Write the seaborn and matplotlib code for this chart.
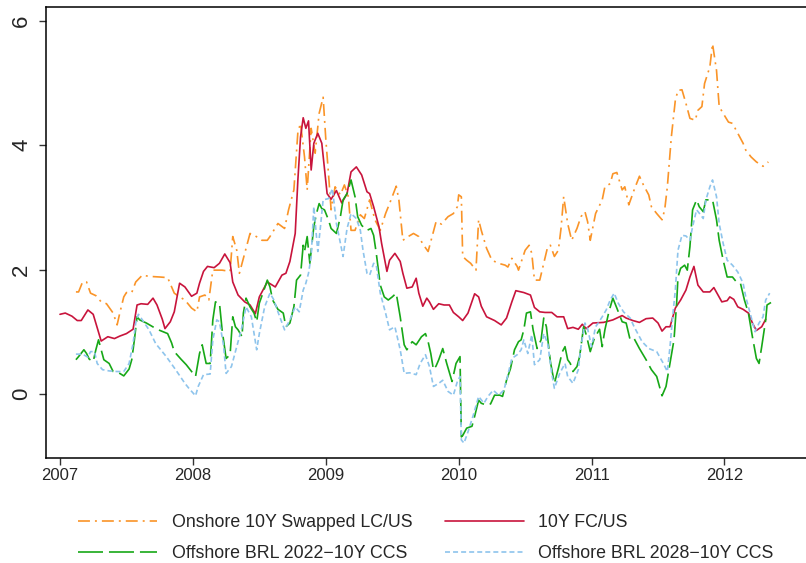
import matplotlib
matplotlib.use('Agg')
import matplotlib.pyplot as plt
import seaborn as sns
import pandas as pd

# ---- data (decimal year, %) ----
onshore_x = [2007.12, 2007.14, 2007.17, 2007.20, 2007.23, 2007.27, 2007.31, 2007.35, 2007.40, 2007.43,
             2007.45, 2007.48, 2007.50, 2007.54, 2007.57, 2007.62, 2007.67, 2007.75, 2007.81, 2007.86,
             2007.90, 2007.94, 2007.99, 2008.03, 2008.05, 2008.09, 2008.12, 2008.15, 2008.22, 2008.28,
             2008.30, 2008.33, 2008.35, 2008.39, 2008.43, 2008.47, 2008.52, 2008.56, 2008.58, 2008.64,
             2008.69, 2008.72, 2008.76, 2008.79, 2008.81, 2008.84, 2008.86, 2008.89, 2008.92, 2008.95,
             2008.98, 2009.00, 2009.02, 2009.04, 2009.07, 2009.11, 2009.14, 2009.17, 2009.19, 2009.22,
             2009.26, 2009.29, 2009.33, 2009.37, 2009.41, 2009.45, 2009.48, 2009.53, 2009.55, 2009.58,
             2009.62, 2009.66, 2009.70, 2009.73, 2009.77, 2009.80, 2009.83, 2009.87, 2009.92, 2009.96,
             2009.99, 2010.00, 2010.02, 2010.03, 2010.06, 2010.09, 2010.13, 2010.15, 2010.17, 2010.21,
             2010.25, 2010.30, 2010.35, 2010.37, 2010.40, 2010.44, 2010.45, 2010.50, 2010.53, 2010.55,
             2010.57, 2010.61, 2010.64, 2010.67, 2010.69, 2010.72, 2010.75, 2010.77, 2010.79, 2010.82,
             2010.85, 2010.89, 2010.92, 2010.95, 2010.97, 2010.99, 2011.03, 2011.08, 2011.10, 2011.14,
             2011.16, 2011.19, 2011.23, 2011.25, 2011.28, 2011.32, 2011.36, 2011.39, 2011.43, 2011.45,
             2011.49, 2011.53, 2011.55, 2011.57, 2011.58, 2011.60, 2011.63, 2011.65, 2011.68, 2011.71,
             2011.74, 2011.78, 2011.80, 2011.83, 2011.85, 2011.89, 2011.91, 2011.94, 2011.96, 2011.99,
             2012.03, 2012.06, 2012.10, 2012.14, 2012.16, 2012.20, 2012.24, 2012.29, 2012.33]
onshore_y = [1.64, 1.64, 1.80, 1.80, 1.62, 1.58, 1.48, 1.45, 1.30, 1.11,
             1.30, 1.56, 1.63, 1.63, 1.80, 1.91, 1.89, 1.88, 1.87, 1.62,
             1.56, 1.51, 1.38, 1.32, 1.56, 1.59, 1.51, 1.99, 1.99, 1.97,
             2.53, 2.31, 1.94, 2.26, 2.58, 2.54, 2.47, 2.47, 2.53, 2.74,
             2.66, 2.96, 3.28, 4.21, 4.35, 3.81, 3.28, 4.27, 3.87, 4.51,
             4.77, 4.10, 3.55, 2.96, 3.33, 3.20, 3.36, 3.17, 2.63, 2.63,
             2.88, 2.82, 3.12, 2.80, 2.63, 2.90, 3.06, 3.34, 3.12, 2.47,
             2.53, 2.58, 2.53, 2.41, 2.29, 2.53, 2.77, 2.73, 2.85, 2.90,
             3.01, 3.20, 3.17, 2.21, 2.15, 2.10, 1.99, 2.80, 2.63, 2.34,
             2.15, 2.10, 2.07, 2.04, 2.18, 2.05, 1.99, 2.31, 2.39, 2.26,
             1.83, 1.83, 2.10, 2.37, 2.39, 2.21, 2.31, 2.66, 3.17, 2.74,
             2.47, 2.66, 2.85, 2.93, 2.77, 2.47, 2.90, 3.12, 3.33, 3.38,
             3.54, 3.56, 3.28, 3.33, 3.04, 3.28, 3.50, 3.36, 3.20, 3.01,
             2.90, 2.80, 2.96, 3.33, 3.60, 4.13, 4.72, 4.88, 4.89, 4.67,
             4.43, 4.40, 4.56, 4.62, 4.99, 5.26, 5.63, 5.20, 4.62, 4.51,
             4.37, 4.35, 4.19, 4.03, 3.92, 3.81, 3.73, 3.66, 3.73]

fc_x = [2007.00, 2007.04, 2007.09, 2007.13, 2007.16, 2007.21, 2007.25, 2007.31, 2007.36, 2007.41,
        2007.45, 2007.50, 2007.55, 2007.58, 2007.61, 2007.66, 2007.70, 2007.73, 2007.77, 2007.79,
        2007.83, 2007.86, 2007.90, 2007.94, 2007.99, 2008.03, 2008.05, 2008.08, 2008.11, 2008.16,
        2008.20, 2008.24, 2008.28, 2008.30, 2008.34, 2008.39, 2008.43, 2008.47, 2008.50, 2008.56,
        2008.62, 2008.67, 2008.70, 2008.73, 2008.77, 2008.79, 2008.81, 2008.83, 2008.85, 2008.87,
        2008.89, 2008.91, 2008.94, 2008.97, 2009.01, 2009.04, 2009.08, 2009.12, 2009.16, 2009.19,
        2009.23, 2009.27, 2009.31, 2009.33, 2009.36, 2009.40, 2009.42, 2009.46, 2009.48, 2009.52,
        2009.56, 2009.58, 2009.61, 2009.65, 2009.68, 2009.70, 2009.73, 2009.76, 2009.78, 2009.81,
        2009.85, 2009.89, 2009.93, 2009.96, 2010.00, 2010.03, 2010.07, 2010.12, 2010.15, 2010.17,
        2010.21, 2010.27, 2010.32, 2010.36, 2010.40, 2010.43, 2010.49, 2010.54, 2010.57, 2010.61,
        2010.65, 2010.70, 2010.74, 2010.79, 2010.82, 2010.86, 2010.90, 2010.93, 2010.96, 2011.01,
        2011.09, 2011.16, 2011.23, 2011.26, 2011.31, 2011.36, 2011.41, 2011.46, 2011.50, 2011.53,
        2011.56, 2011.59, 2011.63, 2011.67, 2011.71, 2011.74, 2011.77, 2011.80, 2011.84, 2011.89,
        2011.92, 2011.98, 2012.02, 2012.04, 2012.07, 2012.10, 2012.14, 2012.18, 2012.21, 2012.24,
        2012.28, 2012.31]
fc_y = [1.28, 1.30, 1.25, 1.18, 1.18, 1.35, 1.28, 0.85, 0.92, 0.89,
        0.93, 0.97, 1.04, 1.43, 1.45, 1.44, 1.54, 1.43, 1.20, 1.05,
        1.16, 1.32, 1.78, 1.72, 1.57, 1.62, 1.78, 1.97, 2.05, 2.03,
        2.10, 2.25, 2.11, 1.80, 1.59, 1.48, 1.43, 1.29, 1.56, 1.80,
        1.72, 1.91, 1.94, 2.13, 2.58, 3.44, 4.13, 4.44, 4.27, 4.39,
        3.60, 4.03, 4.19, 4.03, 3.22, 3.13, 3.27, 3.07, 3.22, 3.57,
        3.65, 3.52, 3.25, 3.22, 3.01, 2.69, 2.42, 1.97, 2.15, 2.26,
        2.13, 1.94, 1.70, 1.72, 1.86, 1.62, 1.41, 1.54, 1.48, 1.36,
        1.45, 1.43, 1.43, 1.31, 1.24, 1.18, 1.30, 1.61, 1.56, 1.41,
        1.24, 1.18, 1.11, 1.22, 1.48, 1.66, 1.63, 1.59, 1.39, 1.32,
        1.31, 1.31, 1.24, 1.24, 1.05, 1.07, 1.04, 1.12, 1.05, 1.14,
        1.15, 1.19, 1.26, 1.22, 1.18, 1.15, 1.21, 1.22, 1.14, 1.01,
        1.08, 1.08, 1.38, 1.51, 1.67, 1.88, 2.05, 1.75, 1.64, 1.64,
        1.71, 1.48, 1.50, 1.56, 1.52, 1.40, 1.36, 1.30, 1.14, 1.02,
        1.08, 1.20]

ccs22_x = [2007.12, 2007.14, 2007.18, 2007.20, 2007.22, 2007.25, 2007.27, 2007.29, 2007.31, 2007.33,
           2007.37, 2007.40, 2007.45, 2007.48, 2007.52, 2007.54, 2007.56, 2007.58, 2007.60, 2007.65,
           2007.73, 2007.81, 2007.84, 2007.86, 2007.91, 2007.95, 2008.02, 2008.05, 2008.07, 2008.10,
           2008.13, 2008.15, 2008.17, 2008.20, 2008.22, 2008.25, 2008.28, 2008.30, 2008.32, 2008.34,
           2008.37, 2008.38, 2008.40, 2008.43, 2008.46, 2008.48, 2008.50, 2008.53, 2008.56, 2008.58,
           2008.60, 2008.64, 2008.68, 2008.70, 2008.73, 2008.76, 2008.78, 2008.81, 2008.83, 2008.84,
           2008.86, 2008.88, 2008.91, 2008.93, 2008.95, 2008.97, 2008.99, 2009.02, 2009.04, 2009.08,
           2009.11, 2009.13, 2009.16, 2009.19, 2009.22, 2009.24, 2009.27, 2009.31, 2009.34, 2009.36,
           2009.38, 2009.41, 2009.44, 2009.47, 2009.50, 2009.53, 2009.56, 2009.59, 2009.61, 2009.65,
           2009.68, 2009.72, 2009.75, 2009.77, 2009.79, 2009.81, 2009.83, 2009.85, 2009.88, 2009.91,
           2009.95, 2009.98, 2010.01, 2010.02, 2010.03, 2010.06, 2010.10, 2010.12, 2010.15, 2010.17,
           2010.21, 2010.24, 2010.27, 2010.31, 2010.33, 2010.36, 2010.39, 2010.42, 2010.45, 2010.47,
           2010.49, 2010.51, 2010.54, 2010.56, 2010.59, 2010.62, 2010.64, 2010.66, 2010.69, 2010.72,
           2010.75, 2010.78, 2010.80, 2010.82, 2010.84, 2010.86, 2010.89, 2010.91, 2010.94, 2010.96,
           2010.99, 2011.02, 2011.06, 2011.08, 2011.10, 2011.13, 2011.16, 2011.19, 2011.23, 2011.26,
           2011.29, 2011.32, 2011.36, 2011.41, 2011.45, 2011.49, 2011.53, 2011.56, 2011.59, 2011.62,
           2011.64, 2011.65, 2011.67, 2011.70, 2011.72, 2011.74, 2011.76, 2011.79, 2011.81, 2011.84,
           2011.86, 2011.91, 2011.94, 2011.96, 2011.99, 2012.02, 2012.06, 2012.09, 2012.12, 2012.15,
           2012.18, 2012.21, 2012.24, 2012.26, 2012.28, 2012.31, 2012.32, 2012.35]
ccs22_y = [0.55, 0.60, 0.71, 0.65, 0.56, 0.52, 0.71, 0.87, 0.71, 0.55,
           0.49, 0.36, 0.33, 0.29, 0.40, 0.55, 0.87, 1.24, 1.19, 1.14,
           1.04, 0.97, 0.82, 0.68, 0.56, 0.47, 0.28, 0.65, 0.79, 0.49,
           0.49, 1.19, 1.48, 1.46, 1.03, 0.57, 0.63, 1.24, 1.08, 1.03,
           0.92, 1.30, 1.54, 1.40, 1.30, 1.16, 1.46, 1.64, 1.83, 1.72,
           1.51, 1.36, 1.30, 1.08, 1.14, 1.40, 1.83, 1.91, 2.39, 2.29,
           2.53, 2.10, 2.69, 2.90, 3.06, 2.98, 2.96, 2.80, 2.66, 2.58,
           2.85, 3.12, 3.22, 3.44, 3.17, 2.85, 2.71, 2.63, 2.66, 2.55,
           2.26, 1.75, 1.56, 1.51, 1.56, 1.62, 1.24, 0.79, 0.71, 0.84,
           0.79, 0.92, 0.97, 0.84, 0.65, 0.39, 0.45, 0.55, 0.73, 0.49,
           0.20, 0.49, 0.60, -0.69, -0.67, -0.55, -0.52, -0.36, -0.10, -0.15,
           -0.18, -0.16, -0.02, -0.02, -0.04, 0.22, 0.41, 0.71, 0.84, 0.87,
           1.03, 1.30, 1.32, 1.03, 0.73, 0.87, 1.22, 1.08, 0.52, 0.17,
           0.41, 0.68, 0.76, 0.55, 0.49, 0.36, 0.44, 0.60, 1.08, 0.95,
           0.68, 0.89, 1.04, 0.76, 1.03, 1.32, 1.54, 1.38, 1.16, 1.14,
           0.87, 0.89, 0.73, 0.55, 0.39, 0.28, -0.03, 0.12, 0.49, 0.87,
           1.46, 1.88, 2.02, 2.07, 1.99, 2.37, 2.96, 3.12, 3.01, 2.93,
           3.12, 3.12, 2.80, 2.47, 2.15, 1.88, 1.88, 1.80, 1.78, 1.51,
           1.30, 0.92, 0.57, 0.49, 0.76, 1.19, 1.43, 1.47]

ccs28_x = [2007.12, 2007.17, 2007.21, 2007.23, 2007.26, 2007.28, 2007.32, 2007.37, 2007.43, 2007.48,
           2007.52, 2007.55, 2007.57, 2007.59, 2007.62, 2007.67, 2007.72, 2007.80, 2007.87, 2007.94,
           2007.97, 2008.02, 2008.04, 2008.08, 2008.13, 2008.15, 2008.18, 2008.20, 2008.23, 2008.25,
           2008.29, 2008.33, 2008.37, 2008.40, 2008.44, 2008.48, 2008.50, 2008.54, 2008.58, 2008.61,
           2008.64, 2008.69, 2008.73, 2008.77, 2008.80, 2008.83, 2008.85, 2008.87, 2008.89, 2008.91,
           2008.94, 2008.96, 2008.98, 2009.02, 2009.05, 2009.08, 2009.11, 2009.13, 2009.16, 2009.19,
           2009.23, 2009.26, 2009.28, 2009.31, 2009.33, 2009.36, 2009.38, 2009.41, 2009.45, 2009.48,
           2009.52, 2009.56, 2009.59, 2009.63, 2009.68, 2009.71, 2009.75, 2009.78, 2009.81, 2009.85,
           2009.88, 2009.92, 2009.96, 2009.99, 2010.01, 2010.02, 2010.04, 2010.07, 2010.11, 2010.15,
           2010.19, 2010.22, 2010.26, 2010.30, 2010.34, 2010.36, 2010.40, 2010.44, 2010.47, 2010.49,
           2010.52, 2010.55, 2010.57, 2010.61, 2010.64, 2010.67, 2010.70, 2010.72, 2010.76, 2010.80,
           2010.82, 2010.86, 2010.90, 2010.92, 2010.95, 2010.97, 2011.00, 2011.03, 2011.05, 2011.08,
           2011.11, 2011.14, 2011.17, 2011.20, 2011.24, 2011.29, 2011.32, 2011.38, 2011.43, 2011.49,
           2011.54, 2011.57, 2011.59, 2011.61, 2011.63, 2011.65, 2011.68, 2011.71, 2011.74, 2011.76,
           2011.79, 2011.82, 2011.84, 2011.86, 2011.89, 2011.91, 2011.94, 2011.96, 2011.99, 2012.02,
           2012.06, 2012.10, 2012.14, 2012.16, 2012.20, 2012.23, 2012.26, 2012.29, 2012.31, 2012.34]
ccs28_y = [0.64, 0.64, 0.59, 0.68, 0.68, 0.49, 0.39, 0.37, 0.36, 0.36,
           0.49, 0.81, 1.14, 1.28, 1.19, 1.03, 0.81, 0.60, 0.39, 0.17,
           0.09, -0.03, 0.12, 0.31, 0.32, 0.87, 1.19, 1.16, 0.79, 0.33,
           0.44, 0.76, 1.08, 1.40, 1.24, 0.71, 0.97, 1.40, 1.62, 1.51,
           1.32, 1.03, 1.19, 1.40, 1.32, 1.67, 1.78, 1.94, 2.21, 3.01,
           2.29, 2.69, 3.12, 3.14, 3.30, 2.74, 2.42, 2.21, 2.66, 2.90,
           2.82, 2.63, 2.31, 1.94, 1.91, 2.10, 2.07, 1.62, 1.30, 1.03,
           1.08, 0.71, 0.33, 0.34, 0.31, 0.49, 0.63, 0.44, 0.12, 0.17,
           0.22, 0.04, -0.02, 0.20, 0.28, -0.74, -0.79, -0.61, -0.34, -0.04,
           -0.15, -0.04, 0.06, -0.02, 0.06, 0.22, 0.57, 0.63, 0.71, 0.87,
           0.65, 0.95, 0.47, 0.55, 0.97, 0.81, 0.33, 0.09, 0.33, 0.49,
           0.28, 0.17, 0.39, 0.76, 1.14, 1.05, 0.76, 1.08, 1.14, 1.24,
           1.35, 1.51, 1.62, 1.46, 1.32, 1.22, 1.08, 0.84, 0.73, 0.68,
           0.49, 0.36, 0.76, 1.24, 1.67, 2.31, 2.55, 2.54, 2.47, 2.69,
           2.96, 2.88, 2.82, 3.12, 3.33, 3.44, 3.17, 2.74, 2.42, 2.15,
           2.07, 1.96, 1.78, 1.56, 1.24, 1.00, 1.14, 1.24, 1.51, 1.62]

labels = ['Onshore 10Y Swapped LC/US', '10Y FC/US',
          'Offshore BRL 2022\u221210Y CCS', 'Offshore BRL 2028\u221210Y CCS']
colors = ['#FA9428', '#C8143C', '#17A817', '#8EC4EC']
year_ticks = [2007, 2008, 2009, 2010, 2011, 2012]
value_ticks = [0, 2, 4, 6]

sns.set_style('white')
plt.rcParams['font.family'] = ['Liberation Sans', 'DejaVu Sans']
plt.rcParams['lines.scale_dashes'] = False

fig = plt.figure(figsize=(8.06, 5.63), dpi=100)
ax = fig.add_axes([0.0571, 0.1865, 0.9727, 0.801])

series = [
    (onshore_x, onshore_y, (0, (8.6, 3.6, 1.4, 3.6))),
    (fc_x, fc_y, '-'),
    (ccs22_x, ccs22_y, (0, (18, 4.3))),
    (ccs28_x, ccs28_y, (0, (3.6, 2.2))),
]
for (xs, ys, ls), lab, col in zip(series, labels, colors):
    df = pd.DataFrame({'year': xs, 'value': ys})
    sns.lineplot(data=df, x='year', y='value', ax=ax, color=col, linestyle=ls,
                 linewidth=1.2, estimator=None, label=lab, legend=False)

ax.set_xlim(2006.895, 2012.794)
ax.set_ylim(-1.03, 6.22)
ax.set_xticks(year_ticks)
ax.set_yticks(value_ticks)
ax.set_xlabel('')
ax.set_ylabel('')
for s in ['left', 'bottom', 'top']:
    ax.spines[s].set_color('black')
    ax.spines[s].set_linewidth(1.1)
ax.spines['right'].set_visible(False)
ax.tick_params(axis='both', direction='out', length=5, width=1, color='#333333',
               bottom=True, left=True)
ax.tick_params(axis='x', pad=2, labelsize=12)
ax.tick_params(axis='y', pad=5, labelsize=16)
for t in ax.get_yticklabels():
    t.set_rotation(90)
    t.set_va('center')

handles = ax.get_lines()
order = [0, 2, 1, 3]
fig.legend([handles[i] for i in order], [labels[i] for i in order],
           loc='upper left', bbox_to_anchor=(0.097, 0.087), ncol=2, frameon=False,
           fontsize=12.8, handlelength=4.45, handletextpad=0.8, columnspacing=1.85,
           labelspacing=0.8, borderpad=0, borderaxespad=0)

fig.savefig('out.png', dpi=100)
